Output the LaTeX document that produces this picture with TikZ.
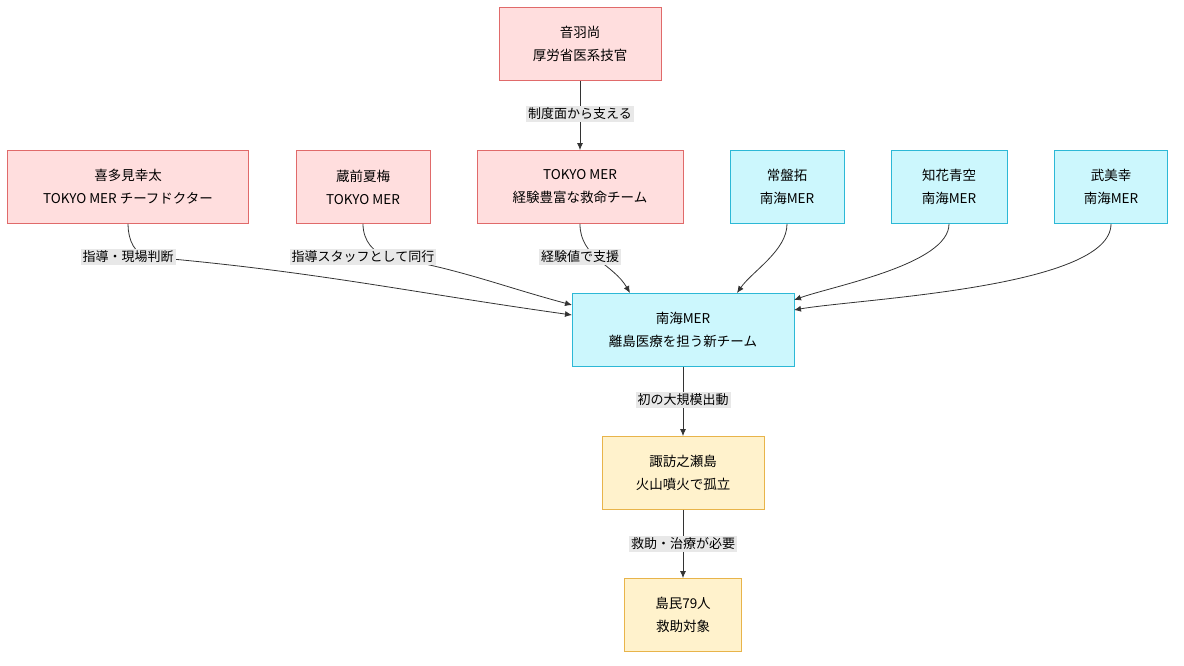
\documentclass[tikz,border=0pt]{standalone}
\usepackage{fontspec}
\setmainfont{Noto Sans CJK JP}
\usetikzlibrary{arrows.meta}
\definecolor{pinkfill}{HTML}{FFDEDE}
\definecolor{pinkline}{HTML}{E06A6A}
\definecolor{cyanfill}{HTML}{CCF7FD}
\definecolor{cyanline}{HTML}{2CB8D6}
\definecolor{yelfill}{HTML}{FFF2CC}
\definecolor{yelline}{HTML}{E8B44A}
\definecolor{lblfill}{HTML}{E8E8E8}
\definecolor{edgecol}{HTML}{333333}
\tikzset{
  box/.style={draw, line width=0.9pt, align=center, minimum height=73pt,
    font=\fontsize{13.5}{23}\selectfont, inner sep=0pt},
  tokyo/.style={box, fill=pinkfill, draw=pinkline},
  nankai/.style={box, fill=cyanfill, draw=cyanline},
  island/.style={box, fill=yelfill, draw=yelline},
  lbl/.style={fill=lblfill, font=\fontsize{13}{15}\selectfont, inner sep=2pt},
  arr/.style={draw=edgecol, line width=0.8pt, -{Latex[length=7pt,width=6pt]}},
}
\begin{document}
\begin{tikzpicture}[x=1pt, y=-1pt]
\useasboundingbox (0,0) rectangle (1184,665);
\node[tokyo, minimum width=162pt] (otowa) at (580,44) {音羽尚\\厚労省医系技官};
\node[tokyo, minimum width=241pt] (kitami) at (128,187) {喜多見幸太\\TOKYO MER チーフドクター};
\node[tokyo, minimum width=134pt] (kurama) at (363,187) {蔵前夏梅\\TOKYO MER};
\node[tokyo, minimum width=206pt] (tokyomer) at (580,187) {TOKYO MER\\経験豊富な救命チーム};
\node[nankai, minimum width=114pt] (tokiwa) at (787,187) {常盤拓\\南海MER};
\node[nankai, minimum width=116pt] (chibana) at (949,187) {知花青空\\南海MER};
\node[nankai, minimum width=113pt] (takemi) at (1111,187) {武美幸\\南海MER};
\node[nankai, minimum width=222pt] (nankaimer) at (683,330) {南海MER\\離島医療を担う新チーム};
\node[island, minimum width=162pt] (suwa) at (683,473) {諏訪之瀬島\\火山噴火で孤立};
\node[island, minimum width=117pt] (islanders) at (683,615) {島民79人\\救助対象};
% edges
\coordinate (l0) at (580,114);
\coordinate (l1) at (150,257);
\coordinate (l2) at (390,257);
\coordinate (l3) at (580,257);
\coordinate (l4) at (683,400);
\coordinate (l5) at (683,544);
\draw[arr] (otowa.south) -- (tokyomer.north);
\draw[arr] (kitami.south) to[out=-90,in=175] (l1) to[out=-5,in=172] (572,315);
\draw[arr] (kurama.south) to[out=-90,in=170] (l2) to[out=-10,in=165] (572,305);
\draw[arr] (tokyomer.south) to[out=-90,in=120] (630,293);
\draw[arr] (tokiwa.south) to[out=-90,in=55,looseness=0.8] (737,293);
\draw[arr] (chibana.south) to[out=-90,in=20,looseness=0.6] (794,300);
\draw[arr] (takemi.south) to[out=-90,in=10,looseness=0.5] (794,310);
\draw[arr] (nankaimer.south) -- (suwa.north);
\draw[arr] (suwa.south) -- (islanders.north);
% labels
\node[lbl] at (l0) {制度面から支える};
\node[lbl] at (128,257) {指導・現場判断};
\node[lbl] at (363,257) {指導スタッフとして同行};
\node[lbl] at (l3) {経験値で支援};
\node[lbl] at (l4) {初の大規模出動};
\node[lbl] at (l5) {救助・治療が必要};
\end{tikzpicture}
\end{document}
